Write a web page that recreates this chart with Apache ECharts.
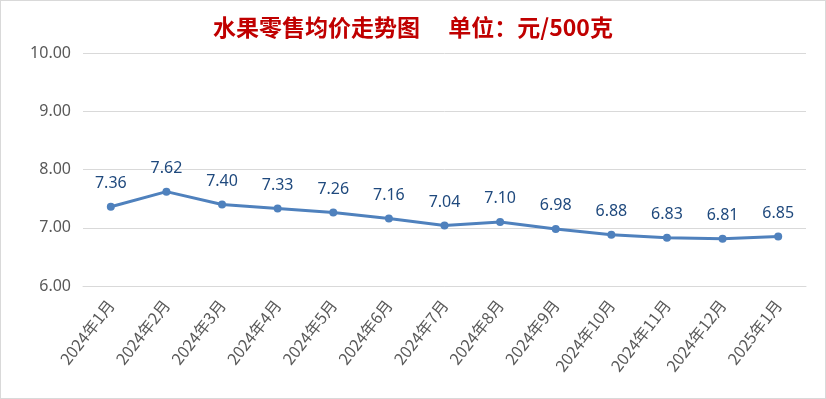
<!DOCTYPE html>
<html>
<head>
<meta charset="utf-8">
<script src="https://cdn.jsdelivr.net/npm/echarts@6/dist/echarts.min.js"></script>
<style>
  html, body { margin: 0; padding: 0; background: #fff; }
  #chart { width: 826px; height: 399px; box-sizing: border-box; border: 1px solid #d9d9d9; }
</style>
</head>
<body>
<div id="chart"></div>
<script>
const months = ['2024年1月', '2024年2月', '2024年3月', '2024年4月', '2024年5月', '2024年6月', '2024年7月',
  '2024年8月', '2024年9月', '2024年10月', '2024年11月', '2024年12月', '2025年1月']
const prices = [7.36, 7.62, 7.40, 7.33, 7.26, 7.16, 7.04, 7.10, 6.98, 6.88, 6.83, 6.81, 6.85]
const titleText = '水果零售均价走势图　 单位：元/500克'

const chart = echarts.init(document.getElementById('chart'))

const option = {
  animation: false,
  title: {
    text: titleText,
    left: 'center',
    top: 10,
    textStyle: {
      color: '#c00000',
      fontSize: 23,
      fontWeight: 'bold',
      fontFamily: 'Noto Sans CJK SC'
    }
  },
  grid: {
    left: 82,
    right: 19,
    top: 52,
    bottom: 112
  },
  xAxis: {
    type: 'category',
    data: months,
    boundaryGap: true,
    axisLine: { lineStyle: { color: '#d9d9d9', width: 1 } },
    axisTick: { inside: true, length: 7, lineStyle: { color: '#d9d9d9' } },
    axisLabel: {
      rotate: 52,
      color: '#595959',
      fontSize: 16,
      fontFamily: 'Noto Sans CJK SC',
      margin: 16
    }
  },
  yAxis: {
    type: 'value',
    min: 6,
    max: 10,
    interval: 1,
    axisLine: { show: false },
    axisTick: { show: false },
    splitLine: { lineStyle: { color: '#d9d9d9' } },
    axisLabel: {
      color: '#595959',
      fontSize: 16,
      fontFamily: 'Noto Sans',
      margin: 12,
      formatter: (v) => v.toFixed(2)
    }
  },
  series: [
    {
      type: 'line',
      data: prices,
      symbol: 'circle',
      symbolSize: 8,
      lineStyle: { color: '#4f81bd', width: 3 },
      itemStyle: { color: '#4f81bd' },
      label: {
        show: true,
        position: 'top',
        distance: 11,
        color: '#1f497d',
        fontSize: 16,
        fontFamily: 'Noto Sans',
        formatter: (p) => p.value.toFixed(2)
      }
    }
  ]
}

chart.setOption(option)
</script>
</body>
</html>
